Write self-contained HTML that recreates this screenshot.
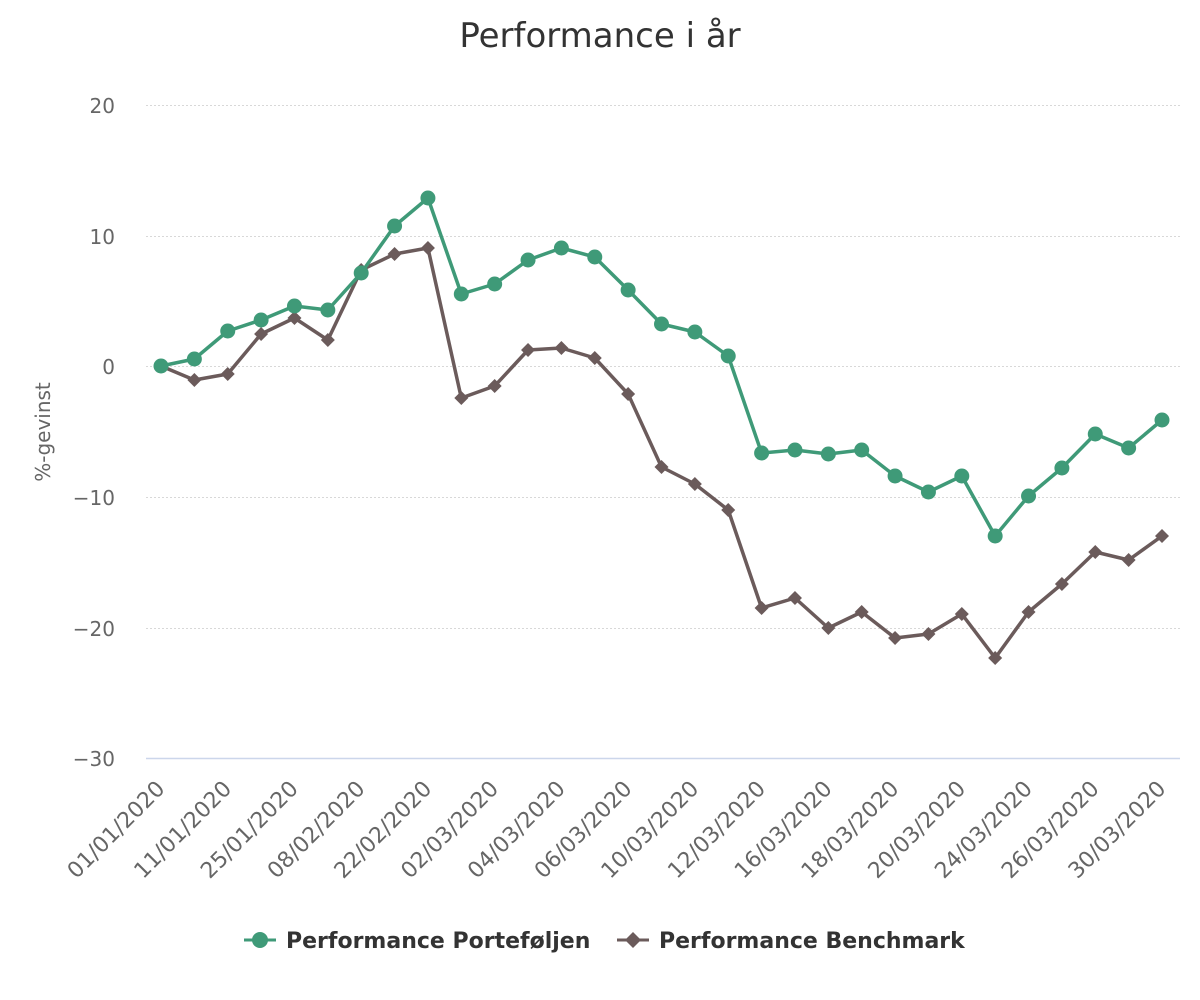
<!DOCTYPE html>
<html><head><meta charset="utf-8"><style>
html,body{margin:0;padding:0;background:#fff;}
svg{display:block;font-family:"DejaVu Sans","Liberation Sans",sans-serif;}
</style></head><body>
<svg width="1200" height="1000" viewBox="0 0 1200 1000">
<text x="600" y="47" text-anchor="middle" font-size="34" fill="#333">Performance i år</text>
<g stroke="#d8d8d8" stroke-width="1" stroke-dasharray="2,2">
<line x1="146" y1="105.5" x2="1180" y2="105.5"/>
<line x1="146" y1="236.5" x2="1180" y2="236.5"/>
<line x1="146" y1="366.5" x2="1180" y2="366.5"/>
<line x1="146" y1="497.5" x2="1180" y2="497.5"/>
<line x1="146" y1="628.5" x2="1180" y2="628.5"/>
</g>
<line x1="146" y1="758.5" x2="1180" y2="758.5" stroke="#ccd6eb" stroke-width="1.5"/>
<g font-size="20" fill="#666" text-anchor="end">
<text x="115" y="113">20</text>
<text x="115" y="244">10</text>
<text x="115" y="374">0</text>
<text x="115" y="505">−10</text>
<text x="115" y="636">−20</text>
<text x="115" y="766">−30</text>
</g>
<text transform="translate(50,432) rotate(-90)" text-anchor="middle" font-size="20" fill="#666">%-gevinst</text>
<g id="xl" font-size="22" fill="#666" text-anchor="end"></g>
<polyline id="bl" fill="none" stroke="#6b5b5b" stroke-width="3.5" stroke-linejoin="round"/>
<polyline id="gl" fill="none" stroke="#3f9a78" stroke-width="3.5" stroke-linejoin="round"/>
<g id="bm" fill="#6b5b5b"></g>
<g id="gm" fill="#3f9a78"></g>
<line x1="244" y1="940" x2="276" y2="940" stroke="#3f9a78" stroke-width="3"/>
<circle cx="260" cy="940" r="8" fill="#3f9a78"/>
<text x="286" y="948" font-size="22" font-weight="bold" fill="#333">Performance Porteføljen</text>
<line x1="617" y1="940" x2="649" y2="940" stroke="#6b5b5b" stroke-width="3"/>
<path d="M633 932 L641 940 L633 948 L625 940Z" fill="#6b5b5b"/>
<text x="659" y="948" font-size="22" font-weight="bold" fill="#333">Performance Benchmark</text>
</svg>
<script>
var g=[366,359,331,320,306,310,273,226,198,294,284,260,248,257,290,324,332,356,453,450,454,450,476,492,476,536,496,468,434,448,420];
var b=[366,380,374,334,318,340,270,254,248,398,386,350,348,358,394,467,484,510,608,598,628,612,638,634,614,658,612,584,552,560,536];
var labs=["01/01/2020","11/01/2020","25/01/2020","08/02/2020","22/02/2020","02/03/2020","04/03/2020","06/03/2020","10/03/2020","12/03/2020","16/03/2020","18/03/2020","20/03/2020","24/03/2020","26/03/2020","30/03/2020"];
var ns="http://www.w3.org/2000/svg";
function X(i){return 161+i*(1162-161)/30;}
var gp=[],bp=[];
for(var i=0;i<31;i++){
 gp.push(X(i)+","+g[i]);bp.push(X(i)+","+b[i]);
 var c=document.createElementNS(ns,"circle");c.setAttribute("cx",X(i));c.setAttribute("cy",g[i]);c.setAttribute("r",7.5);document.getElementById("gm").appendChild(c);
 var p=document.createElementNS(ns,"path");var x=X(i),y=b[i];p.setAttribute("d","M"+x+" "+(y-7)+"L"+(x+7)+" "+y+"L"+x+" "+(y+7)+"L"+(x-7)+" "+y+"Z");document.getElementById("bm").appendChild(p);
}
document.getElementById("gl").setAttribute("points",gp.join(" "));
document.getElementById("bl").setAttribute("points",bp.join(" "));
for(var k=0;k<16;k++){
 var x=X(2*k)+5,y=790;
 var t=document.createElementNS(ns,"text");t.setAttribute("transform","translate("+x+","+y+") rotate(-45)");t.textContent=labs[k];document.getElementById("xl").appendChild(t);
}
</script>
</body></html>
